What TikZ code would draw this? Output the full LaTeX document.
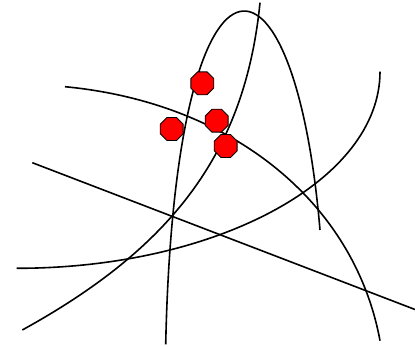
\documentclass[tikz,border=0pt]{standalone}
\usetikzlibrary{shapes.geometric}
\tikzset{
  curve/.style={line width=1.6pt, black, line cap=butt},
  octo/.style={regular polygon, regular polygon sides=8, minimum size=24.8pt,
    inner sep=0pt, outer sep=0pt, fill=red, draw=black, line width=0.9pt}
}
\begin{document}
\begin{tikzpicture}[x=1pt,y=-1pt]
\useasboundingbox (0,0) rectangle (415,347);
% straight line
\draw[curve] (32.3,162.7) -- (415,309.5);
% quarter-ellipse rising to the right
\draw[curve] (16.7,268.3) .. controls (217.2,268.3) and (380,180.2) .. (380,71.7);
% curve falling to the right
\draw[curve] (65,86.7) .. controls (235,103) and (355,205) .. (380,340.7);
% arch
\draw[curve] (165.7,344.3) .. controls (175,-82) and (294,-76) .. (320,230);
% curve rising steeply
\draw[curve] (22.3,330) .. controls (172,247.5) and (245,152.7) .. (260,2.7);
% octagons
\node[octo] (o1) at (202.3,83.3) {};
\node[octo] (o2) at (216.7,120.7) {};
\node[octo] (o3) at (171.7,129) {};
\node[octo] (o4) at (225.7,146) {};
\end{tikzpicture}
\end{document}
